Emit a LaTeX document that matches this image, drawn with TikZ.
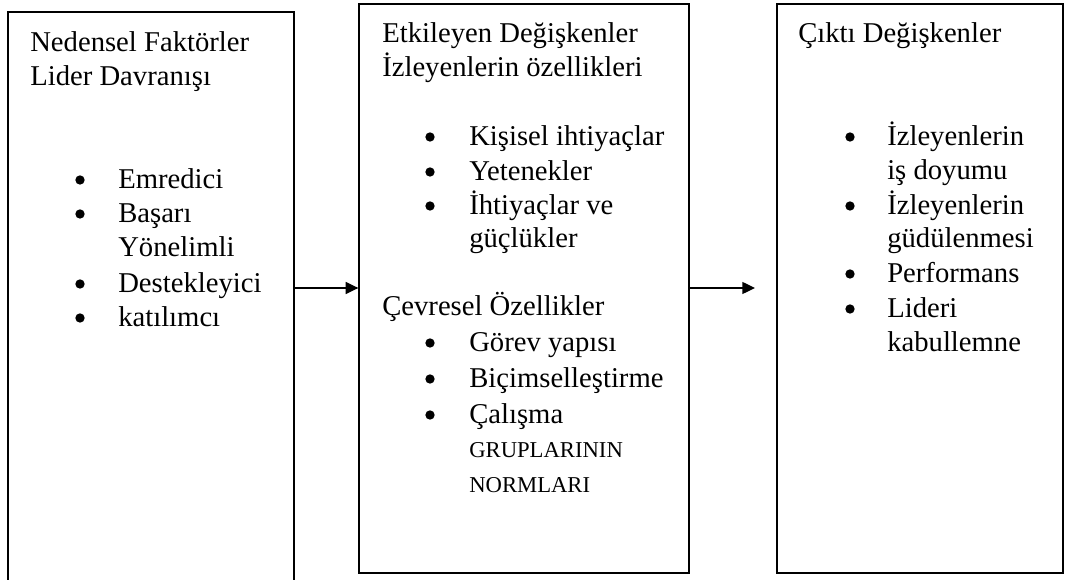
\documentclass[tikz,border=0pt]{standalone}
\usepackage{fontspec}
\setmainfont{Liberation Serif}
\usetikzlibrary{arrows.meta,fit}
\begin{document}
\begin{tikzpicture}[x=0.75pt,y=-0.75pt,
  box/.style={draw, line width=1pt, inner sep=0pt},
  txt/.style={anchor=base west, inner sep=0pt, font=\fontsize{21.5pt}{25pt}\selectfont},
  sml/.style={anchor=base west, inner sep=0pt, font=\fontsize{17pt}{20pt}\selectfont},
  dot/.style={circle, fill=black, inner sep=0pt, minimum size=7pt},
  arr/.style={line width=1pt, -{Triangle[length=9.5pt,width=9pt]}}]
\useasboundingbox (0,0) rectangle (1067,580);
\begin{scope}
\clip (0,0) rectangle (1067,580);
\node[box, fit={(8,12) (294,600)}] (L) {};
\end{scope}
\node[box, fit={(359,4) (689,573)}] (M) {};
\node[box, fit={(777,4) (1063,573)}] (R) {};
\coordinate (ay) at (0,288);
\coordinate (a2end) at (755,288);
\draw[arr] (L.east |- ay) -- (M.west |- ay);
\draw[arr] (M.east |- ay) -- (a2end);

% left box
\node[txt] (l1) at (30,52) {Nedensel Faktörler};
\node[txt] (l2) at (30,86) {Lider Davranışı};
\node[dot] (l3d) at (80,180) {};
\node[txt] (l3) at (118,189) {Emredici};
\node[dot] (l4d) at (80,214) {};
\node[txt] (l4) at (118,223) {Başarı};
\node[txt] (l5) at (118,257) {Yönelimli};
\node[dot] (l6d) at (80,284) {};
\node[txt] (l6) at (118,293) {Destekleyici};
\node[dot] (l7d) at (80,318) {};
\node[txt] (l7) at (118,327) {katılımcı};

% middle box
\node[txt] (m1) at (382,43) {Etkileyen Değişkenler};
\node[txt] (m2) at (382,77) {İzleyenlerin özellikleri};
\node[dot] (m3d) at (430,137) {};
\node[txt] (m3) at (469,146) {Kişisel ihtiyaçlar};
\node[dot] (m4d) at (430,172) {};
\node[txt] (m4) at (469,181) {Yetenekler};
\node[dot] (m5d) at (430,206) {};
\node[txt] (m5) at (469,215) {İhtiyaçlar ve};
\node[txt] (m6) at (469,248) {güçlükler};
\node[txt] (m7) at (382,316) {Çevresel Özellikler};
\node[dot] (m8d) at (430,343) {};
\node[txt] (m8) at (469,352) {Görev yapısı};
\node[dot] (m9d) at (430,379) {};
\node[txt] (m9) at (469,388) {Biçimselleştirme};
\node[dot] (m10d) at (430,415) {};
\node[txt] (m10) at (469,424) {Çalışma};
\node[sml] (m11) at (469,458) {GRUPLARININ};
\node[sml] (m12) at (469,493) {NORMLARI};

% right box
\node[txt] (r1) at (798,43) {Çıktı Değişkenler};
\node[dot] (r2d) at (850,137) {};
\node[txt] (r2) at (887,146) {İzleyenlerin};
\node[txt] (r3) at (887,180) {iş doyumu};
\node[dot] (r4d) at (850,206) {};
\node[txt] (r4) at (887,215) {İzleyenlerin};
\node[txt] (r5) at (887,248) {güdülenmesi};
\node[dot] (r6d) at (850,274) {};
\node[txt] (r6) at (887,283) {Performans};
\node[dot] (r7d) at (850,309) {};
\node[txt] (r7) at (887,318) {Lideri};
\node[txt] (r8) at (887,352) {kabullemne};
\end{tikzpicture}
\end{document}
